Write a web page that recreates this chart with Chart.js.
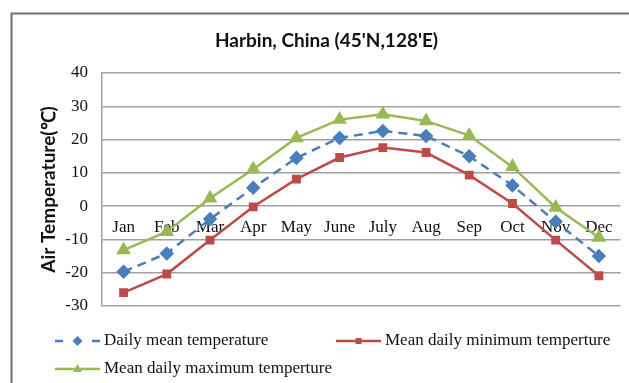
<!DOCTYPE html>
<html>
<head>
<meta charset="utf-8">
<script src="https://cdn.jsdelivr.net/npm/chart.js@4.4.1/dist/chart.umd.min.js"></script>
<style>
    body { margin: 0; background: #fff; }
    #wrap { width: 629px; height: 383px; }
</style>
</head>
<body>
<div id="wrap"><canvas id="harbinChart" width="629" height="383"></canvas></div>
<script>
const months = ['Jan', 'Feb', 'Mar', 'Apr', 'May', 'June', 'July', 'Aug', 'Sep', 'Oct', 'Nov', 'Dec'];
const dailyMean = [-19.7, -14.2, -3.9, 5.5, 14.5, 20.5, 22.6, 21.1, 15.0, 6.2, -4.7, -15.0];
const dailyMin = [-26.0, -20.4, -10.2, -0.2, 8.1, 14.6, 17.6, 16.1, 9.3, 0.8, -10.2, -20.9];
const dailyMax = [-13.2, -7.7, 2.4, 11.1, 20.5, 26.0, 27.6, 25.6, 21.2, 11.8, -0.4, -9.4];
const seriesNames = ['Daily mean temperature', 'Mean daily minimum temperture', 'Mean daily maximum temperture'];

const blue = '#4a7ebb';
const red = '#be4b48';
const green = '#98b954';

// outer frame (left + top edge only, like the cropped excel box)
const framePlugin = {
    id: 'frame',
    beforeDraw(chart) {
        const ctx = chart.ctx;
        ctx.save();
        ctx.strokeStyle = '#6e6e6e';
        ctx.lineWidth = 2;
        ctx.beginPath();
        ctx.moveTo(11.5, 383);
        ctx.lineTo(11.5, 13.5);
        ctx.lineTo(629, 13.5);
        ctx.stroke();
        ctx.restore();
    }
};

function drawMarker(ctx, style, x, y, r) {
    ctx.beginPath();
    if (style === 'rectRot') {
        ctx.moveTo(x, y - r);
        ctx.lineTo(x + r, y);
        ctx.lineTo(x, y + r);
        ctx.lineTo(x - r, y);
    } else if (style === 'rect') {
        ctx.rect(x - r * 0.75, y - r * 0.75, r * 1.5, r * 1.5);
    } else {
        ctx.moveTo(x, y - r);
        ctx.lineTo(x + r * 0.9, y + r * 0.6);
        ctx.lineTo(x - r * 0.9, y + r * 0.6);
    }
    ctx.closePath();
    ctx.fill();
}

// legend laid out like the original: two items on the first row, one below
const legendPlugin = {
    id: 'customLegend',
    afterDraw(chart) {
        const ctx = chart.ctx;
        const spots = [[55, 341], [336, 341], [55, 369]];
        ctx.save();
        ctx.font = '17px "Liberation Serif"';
        ctx.textBaseline = 'middle';
        chart.data.datasets.forEach((ds, i) => {
            const [x, y] = spots[i];
            ctx.strokeStyle = ds.borderColor;
            ctx.fillStyle = ds.borderColor;
            ctx.lineWidth = 2.5;
            ctx.beginPath();
            if (ds.borderDash) {
                ctx.moveTo(x, y); ctx.lineTo(x + 8, y);
                ctx.moveTo(x + 37, y); ctx.lineTo(x + 45, y);
            } else {
                ctx.moveTo(x, y); ctx.lineTo(x + 45, y);
            }
            ctx.stroke();
            drawMarker(ctx, ds.pointStyle, x + 22.5, y, ds.pointStyle === 'rect' ? 4 : 5);
            ctx.fillStyle = '#111';
            ctx.fillText(ds.label, x + 49, y);
        });
        ctx.restore();
    }
};

const ctx = document.getElementById('harbinChart').getContext('2d');

new Chart(ctx, {
    type: 'line',
    data: {
        labels: months,
        datasets: [{
            label: seriesNames[0],
            data: dailyMean,
            borderColor: blue,
            backgroundColor: blue,
            borderWidth: 2.5,
            borderDash: [9, 6],
            pointStyle: 'rectRot',
            pointRadius: 5.5,
            tension: 0
        }, {
            label: seriesNames[1],
            data: dailyMin,
            borderColor: red,
            backgroundColor: red,
            borderWidth: 2.5,
            pointStyle: 'rect',
            pointRadius: 4.5,
            tension: 0
        }, {
            label: seriesNames[2],
            data: dailyMax,
            borderColor: green,
            backgroundColor: green,
            borderWidth: 2.5,
            pointStyle: 'triangle',
            pointRadius: 6,
            tension: 0
        }]
    },
    options: {
        responsive: false,
        animation: false,
        layout: {
            padding: { left: 30, right: 6, top: 0, bottom: 77 }
        },
        plugins: {
            legend: { display: false },
            tooltip: { enabled: false },
            title: {
                display: true,
                text: "Harbin, China (45'N,128'E)",
                color: '#111',
                font: { family: 'Lato', size: 19, weight: 'bold' },
                padding: { top: 29.6, bottom: 20.6 }
            }
        },
        scales: {
            x: {
                position: { y: 0 },
                offset: true,
                grid: { display: false, drawTicks: false },
                border: { display: false },
                ticks: {
                    color: '#111',
                    padding: 11,
                    maxRotation: 0,
                    autoSkip: false,
                    font: { family: 'Liberation Serif', size: 17 }
                }
            },
            y: {
                min: -30,
                max: 40,
                afterFit(scale) {
                    scale.width = 72;
                },
                grid: { color: '#a0a0a0', lineWidth: 1.5, drawTicks: false },
                border: { display: true, color: '#a0a0a0', width: 1.5 },
                ticks: {
                    stepSize: 10,
                    color: '#111',
                    padding: 14,
                    font: { family: 'Liberation Serif', size: 17 }
                },
                title: {
                    display: true,
                    text: 'Air Temperature(℃)',
                    color: '#111',
                    font: { family: 'Lato', size: 19, weight: 'bold' },
                    padding: { top: 7.6, bottom: 0 }
                }
            }
        }
    },
    plugins: [framePlugin, legendPlugin]
});
</script>
</body>
</html>
